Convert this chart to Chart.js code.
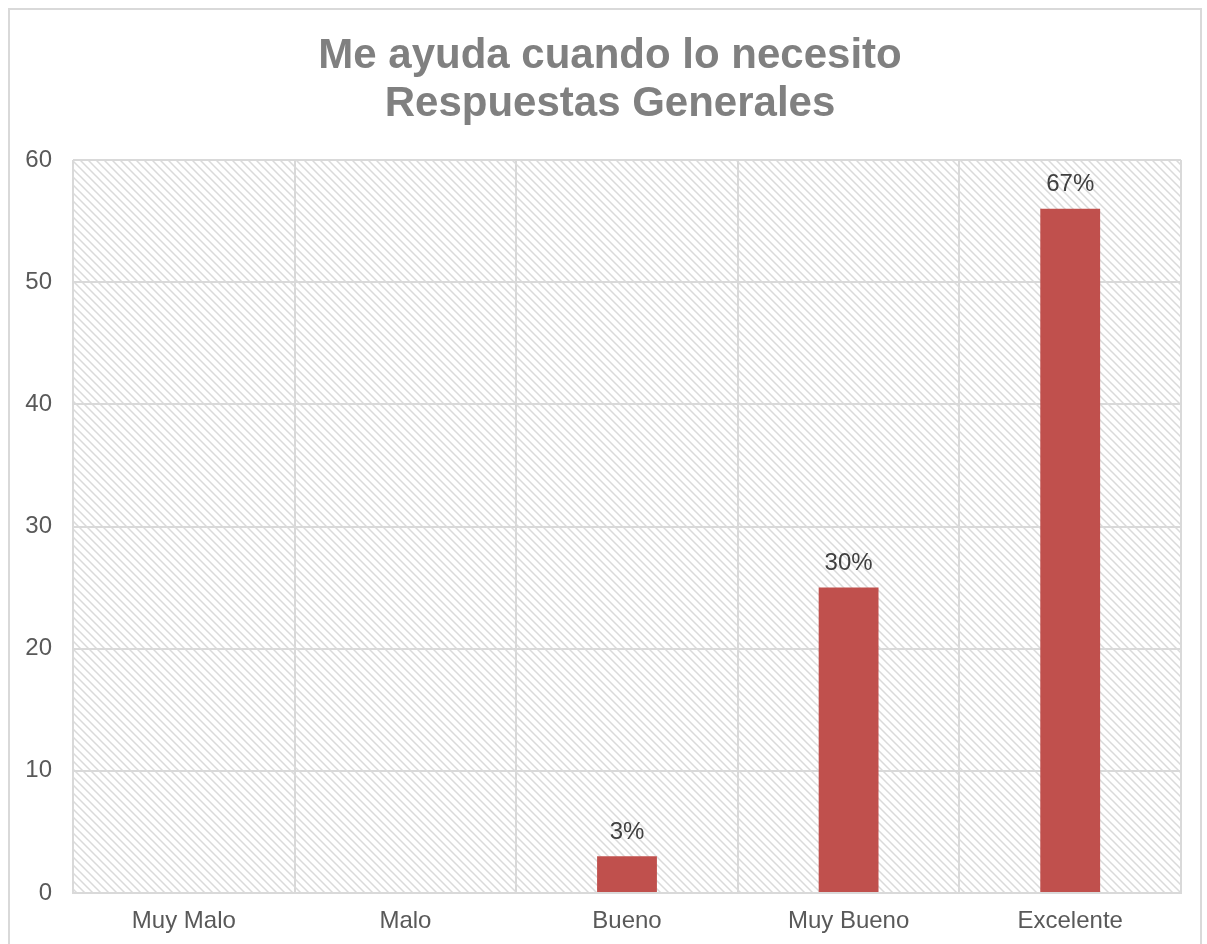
<!DOCTYPE html>
<html>
<head>
<meta charset="utf-8">
<script src="https://cdn.jsdelivr.net/npm/chart.js@4/dist/chart.umd.min.js"></script>
<style>
  body { margin: 0; overflow: hidden; background: #fff; }
  #wrap { position: relative; width: 1207px; height: 944px; }
  #frame { position: absolute; left: 8px; top: 8px; width: 1190px; height: 1000px; border: 2px solid #d9d9d9; }
  #chart1 { position: absolute; left: 0; top: 0; }
</style>
</head>
<body>
<div id="wrap">
  <div id="frame"></div>
  <canvas id="chart1" width="1207" height="944"></canvas>
</div>
<script>
// data
const categories = ['Muy Malo', 'Malo', 'Bueno', 'Muy Bueno', 'Excelente'];
const counts = [0, 0, 3, 25, 56];
const pctLabels = [null, null, '3%', '30%', '67%'];
const titleLines = ['Me ayuda cuando lo necesito', 'Respuestas Generales'];

const FONT = '"Liberation Sans", Arial, sans-serif';

// diagonal hatch used behind the plot
function makeHatch() {
  const c = document.createElement('canvas');
  c.width = 8; c.height = 8;
  const g = c.getContext('2d');
  g.fillStyle = '#ffffff';
  g.fillRect(0, 0, 8, 8);
  g.strokeStyle = '#dadada';
  g.lineWidth = 1.5;
  g.beginPath();
  g.moveTo(-2, -2); g.lineTo(10, 10);
  g.moveTo(-2, 6); g.lineTo(2, 10);
  g.moveTo(6, -2); g.lineTo(10, 2);
  g.stroke();
  return c;
}

const hatchBg = {
  id: 'hatchBg',
  beforeDraw(chart) {
    const { ctx, chartArea: a } = chart;
    ctx.save();
    ctx.fillStyle = ctx.createPattern(makeHatch(), 'repeat');
    ctx.fillRect(a.left, a.top, a.right - a.left, a.bottom - a.top);
    ctx.restore();
  }
};

// title sits a bit right of the canvas centre, so it is drawn by hand
const titleText = {
  id: 'titleText',
  afterDraw(chart) {
    const { ctx } = chart;
    ctx.save();
    ctx.font = 'bold 42px ' + FONT;
    ctx.fillStyle = '#808080';
    ctx.textAlign = 'center';
    ctx.textBaseline = 'middle';
    titleLines.forEach((t, i) => ctx.fillText(t, 610, 56 + i * 48));
    ctx.restore();
  }
};

const barLabels = {
  id: 'barLabels',
  afterDatasetsDraw(chart) {
    const { ctx } = chart;
    const meta = chart.getDatasetMeta(0);
    ctx.save();
    ctx.font = '24px ' + FONT;
    ctx.fillStyle = '#404040';
    ctx.textAlign = 'center';
    ctx.textBaseline = 'middle';
    meta.data.forEach((bar, i) => {
      if (!pctLabels[i]) return;
      ctx.fillText(pctLabels[i], bar.x, bar.y - 24);
    });
    ctx.restore();
  }
};

new Chart(document.getElementById('chart1'), {
  type: 'bar',
  data: {
    labels: categories,
    datasets: [{
      data: counts,
      backgroundColor: '#c0504d',
      borderWidth: 0,
      barPercentage: 0.3,
      categoryPercentage: 0.9,
    }],
  },
  options: {
    responsive: false,
    animation: false,
    layout: { padding: { left: 0, right: 26, top: 160, bottom: 11 } },
    plugins: {
      legend: { display: false },
      tooltip: { enabled: false },
      title: { display: false },
    },
    scales: {
      x: {
        grid: { color: '#d9d9d9', lineWidth: 2, drawTicks: false },
        border: { color: '#d9d9d9', width: 2 },
        ticks: { color: '#595959', font: { family: FONT, size: 24 }, padding: 14 },
        afterFit: s => { s.height = 40; },
      },
      y: {
        min: 0,
        max: 60,
        grid: { color: '#d9d9d9', lineWidth: 2, drawTicks: false },
        border: { display: false },
        ticks: { stepSize: 10, color: '#595959', font: { family: FONT, size: 24 }, padding: 21 },
        afterFit: s => { s.width = 73; },
      },
    },
  },
  plugins: [hatchBg, titleText, barLabels],
});
</script>
</body>
</html>
